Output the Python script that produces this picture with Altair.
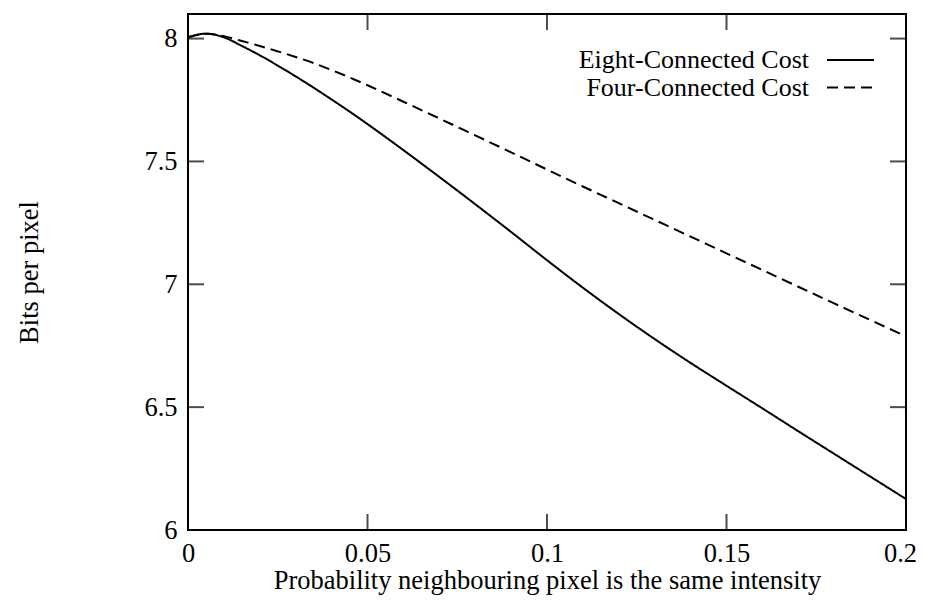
import altair as alt
import pandas as pd

# ---- data ----
x_vals = [0, 0.005, 0.01, 0.015, 0.02, 0.025, 0.03, 0.035, 0.04, 0.045, 0.05, 0.06, 0.07, 0.08,
          0.09, 0.10, 0.11, 0.12, 0.13, 0.14, 0.15, 0.16, 0.17, 0.18, 0.19, 0.20]
eight_cost = [8.005, 8.02, 8.005, 7.97, 7.932, 7.89, 7.846, 7.80, 7.752, 7.703, 7.652, 7.546, 7.437,
              7.326, 7.213, 7.098, 6.986, 6.879, 6.777, 6.68, 6.587, 6.495, 6.402, 6.31, 6.218, 6.126]
four_cost = [8.005, 8.02, 8.01, 7.99, 7.97, 7.948, 7.925, 7.90, 7.872, 7.842, 7.81, 7.743, 7.675,
             7.606, 7.537, 7.467, 7.398, 7.330, 7.262, 7.194, 7.126, 7.058, 6.99, 6.922, 6.855, 6.788]
series_names = ["Eight-Connected Cost", "Four-Connected Cost"]
x_ticks = [0, 0.05, 0.1, 0.15, 0.2]
y_ticks = [6, 6.5, 7, 7.5, 8]
x_domain = [0, 0.2]
y_domain = [6, 8.1]

rows = []
for name, vals in zip(series_names, [eight_cost, four_cost]):
    for xv, yv in zip(x_vals, vals):
        rows.append({"x": xv, "y": yv, "series": name})
lines_df = pd.DataFrame(rows)

inner_x = x_ticks[1:-1]
inner_y = y_ticks[1:]
xtick_df = pd.DataFrame({"x": inner_x * 2,
                         "y": [y_domain[0]] * len(inner_x) + [y_domain[1]] * len(inner_x)})
ytick_df = pd.DataFrame({"x": [x_domain[0]] * len(inner_y) + [x_domain[1]] * len(inner_y),
                         "y": inner_y * 2})

FONT = "Liberation Serif"
FS = 26.5
LEG_FS = 26
DASHES = [[1, 0], [11, 6]]

xenc = alt.X("x:Q", scale=alt.Scale(domain=x_domain, nice=False, zero=False),
             axis=alt.Axis(values=x_ticks, labelExpr="toString(datum.value)",
                           title="Probability neighbouring pixel is the same intensity",
                           domain=False, ticks=False, tickSize=0, grid=False,
                           labelPadding=10, titlePadding=1, labelFlush=False,
                           labelOffset={"condition": {"test": "datum.value >= 0.2", "value": -6},
                                        "value": 0}))
yenc = alt.Y("y:Q", scale=alt.Scale(domain=y_domain, nice=False, zero=False),
             axis=alt.Axis(values=y_ticks, labelExpr="toString(datum.value)",
                           title="Bits per pixel",
                           domain=False, ticks=False, tickSize=0, grid=False,
                           labelPadding=11, titlePadding=100, labelFlush=False))

lines = alt.Chart(lines_df).mark_line(color="black", strokeWidth=2, clip=True,
                                      interpolate="monotone").encode(
    x=xenc,
    y=yenc,
    strokeDash=alt.StrokeDash("series:N",
                              scale=alt.Scale(domain=series_names, range=DASHES),
                              legend=None),
)

xticks = alt.Chart(xtick_df).mark_tick(orient="vertical", color="black", thickness=2,
                                        size=32, clip=True).encode(x=xenc, y=yenc)
yticks = alt.Chart(ytick_df).mark_tick(orient="horizontal", color="black", thickness=2,
                                        size=32, clip=True).encode(x=xenc, y=yenc)

# manual legend (label left of line sample, as in the reference)
legend_layers = []
row_y = [46, 73.5]
for i, name in enumerate(series_names):
    one = pd.DataFrame({"label": [name]})
    legend_layers.append(
        alt.Chart(one).mark_text(align="right", baseline="middle", font=FONT,
                                 fontSize=LEG_FS, color="black").encode(
            x=alt.value(621), y=alt.value(row_y[i]), text="label:N"))
    legend_layers.append(
        alt.Chart(one).mark_rule(color="black", strokeWidth=2,
                                 strokeDash=DASHES[i]).encode(
            x=alt.value(639), x2=alt.value(686), y=alt.value(row_y[i])))

chart = alt.layer(lines, xticks, yticks, *legend_layers).properties(
    width=718, height=516,
    autosize=alt.AutoSizeParams(type="none"),
    padding={"left": 180, "top": 6, "right": 14, "bottom": 66},
    background="white",
).configure_view(
    stroke="black", strokeWidth=2
).configure_axis(
    labelFont=FONT, labelFontSize=FS, labelColor="black",
    titleFont=FONT, titleFontSize=FS, titleColor="black", titleFontWeight="normal",
)

chart.save("out.html", embed_options={"renderer": "svg", "actions": False})
